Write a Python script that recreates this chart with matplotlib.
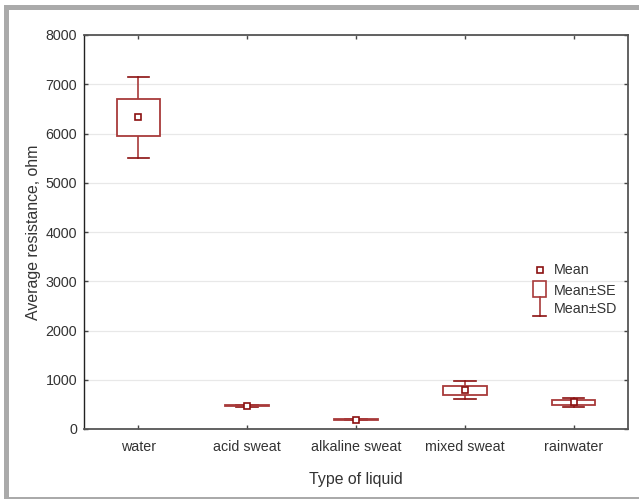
import numpy as np
import matplotlib
matplotlib.use('Agg')
from matplotlib import pyplot as plt
from matplotlib.patches import Rectangle

plt.rcParams['font.family'] = ['Liberation Sans', 'DejaVu Sans']

# data
liquids = ["water", "acid sweat", "alkaline sweat", "mixed sweat", "rainwater"]
mean = [6325, 470, 190, 785, 540]
se = [375, 10, 5, 90, 47]
sd = [830, 25, 12, 185, 97]

box_c = '#a83a3a'
mean_c = '#8b1010'
txt_c = '#333333'

fig = plt.figure(figsize=(6.39, 4.99), dpi=100)
W, H = 639, 499

# grey frame around the figure
fig.patches.append(Rectangle((4 / W, 1 - 10 / H), 1 - 4 / W, 5 / H, transform=fig.transFigure,
                             color='#aaaaaa', lw=0, zorder=0))
fig.patches.append(Rectangle((4 / W, 2 / H), 5 / W, 1 - 12 / H, transform=fig.transFigure,
                             color='#aaaaaa', lw=0, zorder=0))
fig.patches.append(Rectangle((4 / W, 0), 1 - 4 / W, 2.5 / H, transform=fig.transFigure,
                             color='#aaaaaa', lw=0, zorder=0))

ax = fig.add_axes([84 / W, 1 - 429 / H, 544 / W, 394 / H])

x = np.arange(len(liquids))
bw = 0.40
cw = 0.20
for i in x:
    m, s1, s2 = mean[i], se[i], sd[i]
    # whiskers (mean +- SD)
    ax.plot([i, i], [m + s1, m + s2], color=box_c, lw=1.2, zorder=2)
    ax.plot([i, i], [m - s1, m - s2], color=box_c, lw=1.2, zorder=2)
    ax.plot([i - cw / 2, i + cw / 2], [m + s2, m + s2], color=mean_c, lw=1.2, zorder=2)
    ax.plot([i - cw / 2, i + cw / 2], [m - s2, m - s2], color=mean_c, lw=1.2, zorder=2)
    # box (mean +- SE)
    ax.add_patch(Rectangle((i - bw / 2, m - s1), bw, 2 * s1, facecolor='white',
                           edgecolor=box_c, lw=1.3, zorder=3))
ax.plot(x, mean, 's', ms=5, mfc='white', mec=mean_c, mew=1.2, ls='none', zorder=4)

ax.set_xlim(-0.5, 4.5)
ax.set_ylim(0, 8000)
ax.set_xticks(x)
ax.set_xticklabels(liquids)
ax.set_yticks(np.arange(0, 8001, 1000))
ax.yaxis.grid(True, color='#e8e8e8', lw=0.9)
ax.set_axisbelow(True)
ax.tick_params(direction='in', length=3, width=1, colors='#444444', top=True, right=True,
               labelsize=10.3, labelcolor=txt_c, pad=5)
ax.tick_params(axis='x', pad=8)
for sp in ax.spines.values():
    sp.set_color('#555555')
    sp.set_linewidth(1.3)
ax.spines['left'].set_color('#222222')
ax.spines['left'].set_linewidth(1.0)

ax.set_xlabel("Type of liquid", fontsize=11.4, color=txt_c, labelpad=13)
ax.set_ylabel("Average resistance, ohm", fontsize=11.4, color=txt_c, labelpad=3)

# legend drawn by hand
lx = 0.838
ax.plot([lx], [0.404], 's', ms=5, mfc='white', mec=mean_c, mew=1.2, transform=ax.transAxes,
        clip_on=False, zorder=5)
ax.add_patch(Rectangle((lx - 0.012, 0.335), 0.024, 0.04, transform=ax.transAxes,
                       facecolor='white', edgecolor=box_c, lw=1.2, zorder=5))
ax.plot([lx, lx], [0.335, 0.286], color=box_c, lw=1.2, transform=ax.transAxes, zorder=5)
ax.plot([lx - 0.012, lx + 0.012], [0.286, 0.286], color=mean_c, lw=1.2,
        transform=ax.transAxes, zorder=5)
for ty, lab in zip([0.404, 0.350, 0.305], ["Mean", "Mean±SE", "Mean±SD"]):
    ax.text(0.864, ty, lab, transform=ax.transAxes, fontsize=10.3, color=txt_c, va='center')

fig.savefig("out.png", dpi=100)
